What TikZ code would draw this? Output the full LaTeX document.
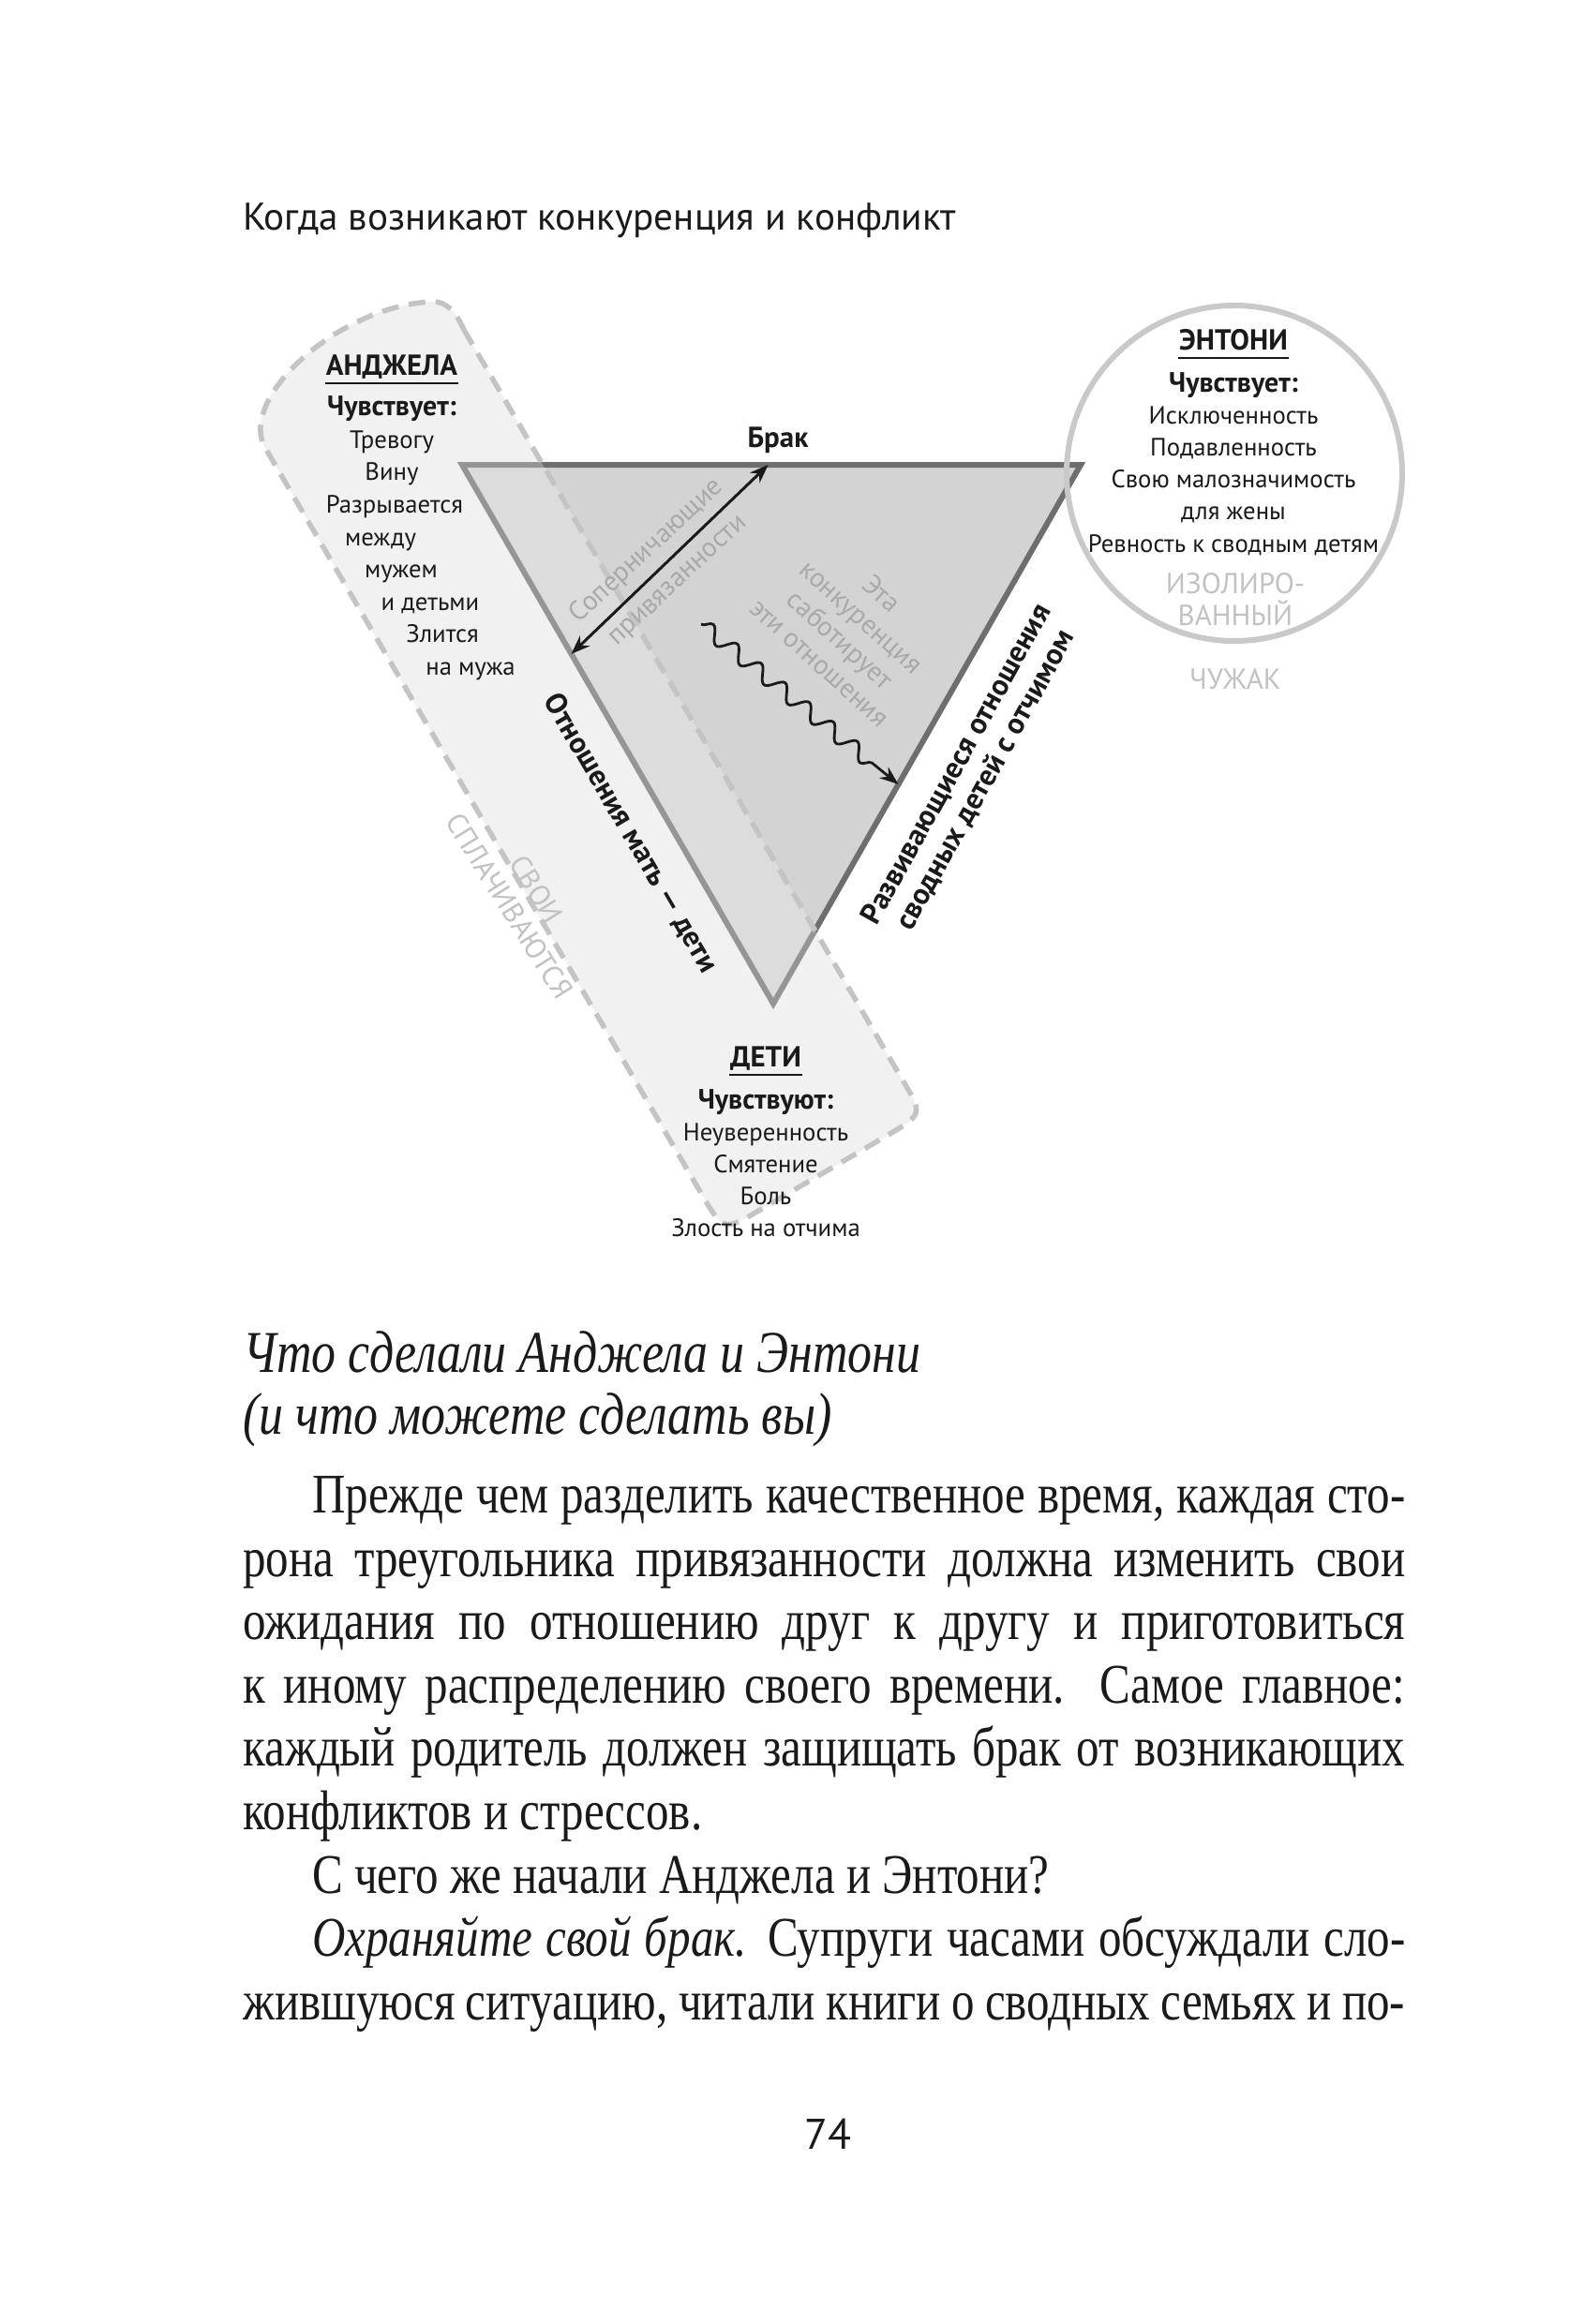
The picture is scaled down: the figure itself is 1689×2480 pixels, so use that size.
\documentclass[tikz,border=0pt]{standalone}
\usepackage{fontspec}
\setmainfont{Liberation Serif}
\newfontfamily\diafont{PT Sans}
\newfontfamily\bodyfont{Liberation Serif}[FakeStretch=0.82]
\usetikzlibrary{arrows.meta,decorations.pathmorphing,positioning,calc}

\definecolor{ink}{HTML}{1A1A1A}
\definecolor{bandgray}{HTML}{F1F1F1}
\definecolor{dashgray}{HTML}{C4C4C4}
\definecolor{trigray}{HTML}{D3D3D3}
\definecolor{edgegray}{HTML}{6E6E6E}
\definecolor{ringgray}{HTML}{C9C9C9}
\definecolor{ghostgray}{HTML}{A9A9A9}
\definecolor{palegray}{HTML}{C2C2C2}

\tikzset{
  every picture/.style={line width=0.75pt},
  txt/.style={font=\diafont\fontsize{7.6}{9}\selectfont, text=ink, inner sep=0pt, anchor=base},
  ttl/.style={font=\diafont\bfseries\fontsize{8.8}{10}\selectfont, text=ink, inner sep=0pt, anchor=base},
  feel/.style={font=\diafont\bfseries\fontsize{8.5}{10}\selectfont, text=ink, inner sep=0pt, anchor=base},
  side/.style={font=\diafont\bfseries\fontsize{9}{10}\selectfont, text=ink, inner sep=0pt, align=center},
  ghost/.style={font=\diafont\fontsize{8.3}{9.4}\selectfont, text=ghostgray, inner sep=0pt, align=center},
  pale/.style={font=\diafont\fontsize{8.8}{9.6}\selectfont, text=palegray, inner sep=0pt, align=center},
  body/.style={font=\bodyfont\fontsize{17}{19}\selectfont, text=ink, inner sep=0pt, anchor=base west},
  head/.style={body, font=\bodyfont\itshape\fontsize{18}{20}\selectfont},
  uline/.style={ink, line width=0.27mm},
  dblarr/.style={ink, line width=0.3mm, {Stealth[length=2mm,width=1.5mm]}-{Stealth[length=2mm,width=1.5mm]}},
  wavy/.style={ink, line width=0.28mm, -{Stealth[length=2mm,width=1.5mm]}, decorate,
    decoration={snake, segment length=3.3mm, amplitude=0.8mm, post length=2mm}}
}

\begin{document}
\begin{tikzpicture}[x=0.1mm, y=-0.1mm]
    \fill[white] (0,0) rectangle (1689,2480);
    \useasboundingbox (0,0) rectangle (1689,2480);

    % Running head
    \node[font=\diafont\fontsize{11.7}{14}\selectfont, text=ink, inner sep=0pt, anchor=base west] (runhead) at (258,245) {Когда возникают конкуренция и конфликт};

    % Triangle corners
    \coordinate (tl) at (493,496);
    \coordinate (tr) at (1153,496);
    \coordinate (bt) at (825,1071);

    % Band round mother and children
    \path[save path=\bandp] (495,352) -- (962,1151) .. controls (985,1189) .. (946,1212) -- (811,1291)
        .. controls (772,1314) .. (749,1275) -- (283,478) .. controls (253,426) and (360,327) .. (460,322)
        .. controls (478,321) and (487,335) .. (495,352) -- cycle;
    \fill[bandgray, use path=\bandp];

    % Triangle
    \filldraw[fill=trigray, draw=edgegray, line width=0.6mm, line join=miter] (tl) -- (tr) -- (bt) -- cycle;
    \fill[bandgray, opacity=0.3, use path=\bandp];
    \draw[dashgray, line width=0.55mm, dash pattern=on 1.8mm off 1.1mm, use path=\bandp];

    % Anthony's circle
    \coordinate (antc) at (1317,505);
    \draw[ringgray, line width=0.6mm] (antc) circle[radius=179];

    % Arrows
    \coordinate (rivlo) at ($(tl)!0.351!(bt)$);
    \coordinate (rivhi) at ($(tl)!0.495!(tr)$);
    \draw[dblarr] (rivlo) -- (rivhi);
    \coordinate (wavest) at (748,666);
    \coordinate (waveend) at ($(tr)!0.593!(bt)$);
    \draw[wavy] (wavest) -- (waveend);

    % Side labels
    \node[ttl] (brak) at (830,477) {Брак};
    \node[side, rotate=-59.7] (momkids) at (673,889) {Отношения мать — дети};
    \node[side, rotate=61] (stepkids) at (1036,824) {Развивающиеся отношения\\сводных детей с отчимом};
    \node[ghost, rotate=43] (rival1) at (690,588) {Соперничающие};
    \node[ghost, rotate=43] (rival2) at (725,621) {привязанности};
    \node[ghost, rotate=-42] (sabot) at (908,670) {Эта\\конкуренция\\саботирует\\эти отношения};
    \node[pale, rotate=-58] (ours) at (558,958) {СВОИ\\СПЛАЧИВАЮТСЯ};

    % Angela
    \node[ttl] (angname) at (418,400) {АНДЖЕЛА};
    \draw[uline] ([yshift=-0.9mm]angname.base west) -- ([yshift=-0.9mm]angname.base east);
    \node[feel] (angfeel) at (418,443) {Чувствует:};
    \foreach \t/\x/\y [count=\i] in {Тревогу/418/478, Вину/418/512, Разрывается/421/547, между/406/582,
        мужем/428/616, и детьми/459/651, Злится/472/685, на мужа/502/720}
        \node[txt] (ang\i) at (\x,\y) {\t};

    % Anthony
    \node[ttl] (antname) at (1316,373) {ЭНТОНИ};
    \draw[uline] ([yshift=-0.9mm]antname.base west) -- ([yshift=-0.9mm]antname.base east);
    \node[feel] (antfeel) at (1316,418) {Чувствует:};
    \foreach \t [count=\i] in {Исключенность, Подавленность, Свою малозначимость, для жены, Ревность к сводным детям}
        \node[txt] (ant\i) at (1316,{418+34.2*\i}) {\t};
    \node[pale, anchor=base] (isol1) at (1318,633) {ИЗОЛИРО-};
    \node[pale, anchor=base] (isol2) at (1318,667) {ВАННЫЙ};
    \node[pale, anchor=base] (alien) at (1318,735) {ЧУЖАК};

    % Children
    \node[ttl] (kidname) at (817,1138) {ДЕТИ};
    \draw[uline] ([yshift=-0.9mm]kidname.base west) -- ([yshift=-0.9mm]kidname.base east);
    \node[feel] (kidfeel) at (817,1183) {Чувствуют:};
    \foreach \t [count=\i] in {Неуверенность, Смятение, Боль, Злость на отчима}
        \node[txt] (kid\i) at (817,{1183+34*\i}) {\t};

    % Text below
    \node[head] (head1) at (258,1464) {Что сделали Анджела и Энтони};
    \node[head] (head2) at (258,1530) {(и что можете сделать вы)};
    \node[body] (par1) at (332,1614) {\makebox[116.6mm][s]{Прежде чем разделить качественное время, каждая сто-}};
    \node[body] (par2) at (258,1682) {\makebox[124mm][s]{рона треугольника привязанности должна изменить свои}};
    \node[body] (par3) at (258,1749) {\makebox[124mm][s]{ожидания по отношению друг к другу и приготовиться}};
    \node[body] (par4) at (258,1817) {\makebox[124mm][s]{к иному распределению своего времени. Самое главное:}};
    \node[body] (par5) at (258,1884) {\makebox[124mm][s]{каждый родитель должен защищать брак от возникающих}};
    \node[body] (par6) at (258,1952) {конфликтов и стрессов.};
    \node[body] (par7) at (332,2020) {С чего же начали Анджела и Энтони?};
    \node[body] (par8) at (332,2087) {\makebox[116.6mm][s]{\textit{Охраняйте свой брак.} Супруги часами обсуждали сло-}};
    \node[body] (par9) at (258,2155) {\makebox[124mm][s]{жившуюся ситуацию, читали книги о сводных семьях и по-}};

    % Page number
    \node[font=\diafont\fontsize{13}{15}\selectfont, text=ink, inner sep=0pt, anchor=base] (folio) at (883,2293) {74};
\end{tikzpicture}
\end{document}
